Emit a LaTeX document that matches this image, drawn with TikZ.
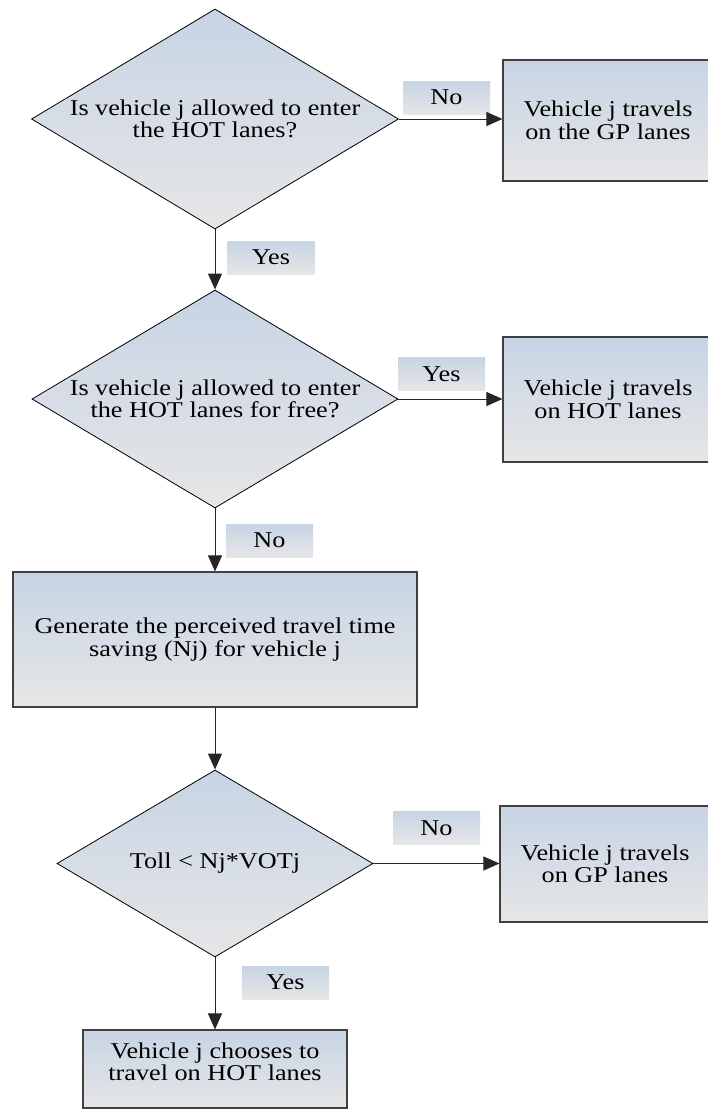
\documentclass[tikz,border=0pt]{standalone}
\usepackage{fontspec}
\setmainfont[FakeStretch=1.16]{Liberation Serif}
\usepackage{tikz}
\usepackage{xcolor}
\usetikzlibrary{shapes.geometric, arrows.meta}

\definecolor{shadetop}{RGB}{199,212,229}
\definecolor{shadebot}{RGB}{230,230,230}

\begin{document}
\begin{tikzpicture}[x=1pt, y=-1pt,
    every node/.style={font=\fontsize{22.6pt}{22.5pt}\selectfont, align=center},
    decision/.style={diamond, draw=black, line width=0.8pt, top color=shadetop, bottom color=shadebot, inner sep=0pt, shape aspect=1.67},
    process/.style={rectangle, draw=black!75, line width=1.1pt, top color=shadetop, bottom color=shadebot, inner sep=0pt},
    tag/.style={rectangle, top color=shadetop, bottom color=shadebot, inner sep=0pt, minimum width=87pt, minimum height=33pt},
    arrow/.style={draw=black!85, line width=1pt, -{Triangle[length=16pt,width=14pt]}}]
    \useasboundingbox (0,0) rectangle (707,1111);

    % First question
    \node[decision, minimum width=367pt, minimum height=220pt] (q1) at (215,119) {Is vehicle j allowed to enter\\the HOT lanes?};
    \node[process, minimum width=210pt, minimum height=121pt] (gp1) at (608,120.5) {Vehicle j travels\\on the GP lanes};
    \node[tag] (no1) at (446.5,97.5) {No};

    % Second question
    \node[decision, minimum width=366pt, minimum height=218pt] (q2) at (215,399) {Is vehicle j allowed to enter\\the HOT lanes for free?};
    \node[process, minimum width=210pt, minimum height=125pt] (hot1) at (608,399.5) {Vehicle j travels\\on HOT lanes};
    \node[tag] (yes1) at (271,257.5) {Yes};
    \node[tag] (yes2) at (441.5,374) {Yes};

    % Travel time saving
    \node[tag] (no2) at (269.5,540.5) {No};
    \node[process, minimum width=404pt, minimum height=135pt] (gen) at (215,639.5) {Generate the perceived travel time\\saving (Nj) for vehicle j};

    % Toll check
    \node[decision, minimum width=316pt, minimum height=187pt] (q3) at (215,863.5) {Toll < Nj*VOTj};
    \node[process, minimum width=210pt, minimum height=116pt] (gp2) at (605,864) {Vehicle j travels\\on GP lanes};
    \node[tag] (no3) at (436.5,828) {No};
    \node[tag] (yes3) at (285.5,982.5) {Yes};
    \node[process, minimum width=264pt, minimum height=78pt, text depth=15pt] (hot2) at (215,1069) {Vehicle j chooses to\\travel on HOT lanes};

    % Connectors
    \draw[arrow] (q1.east) -- (q1.east -| gp1.west);
    \draw[arrow] (q1.south) -- (q2.north);
    \draw[arrow] (q2.east) -- (q2.east -| hot1.west);
    \draw[arrow] (q2.south) -- (gen.north);
    \draw[arrow] (gen.south) -- (q3.north);
    \draw[arrow] (q3.east) -- (q3.east -| gp2.west);
    \draw[arrow] (q3.south) -- (hot2.north);
\end{tikzpicture}
\end{document}
